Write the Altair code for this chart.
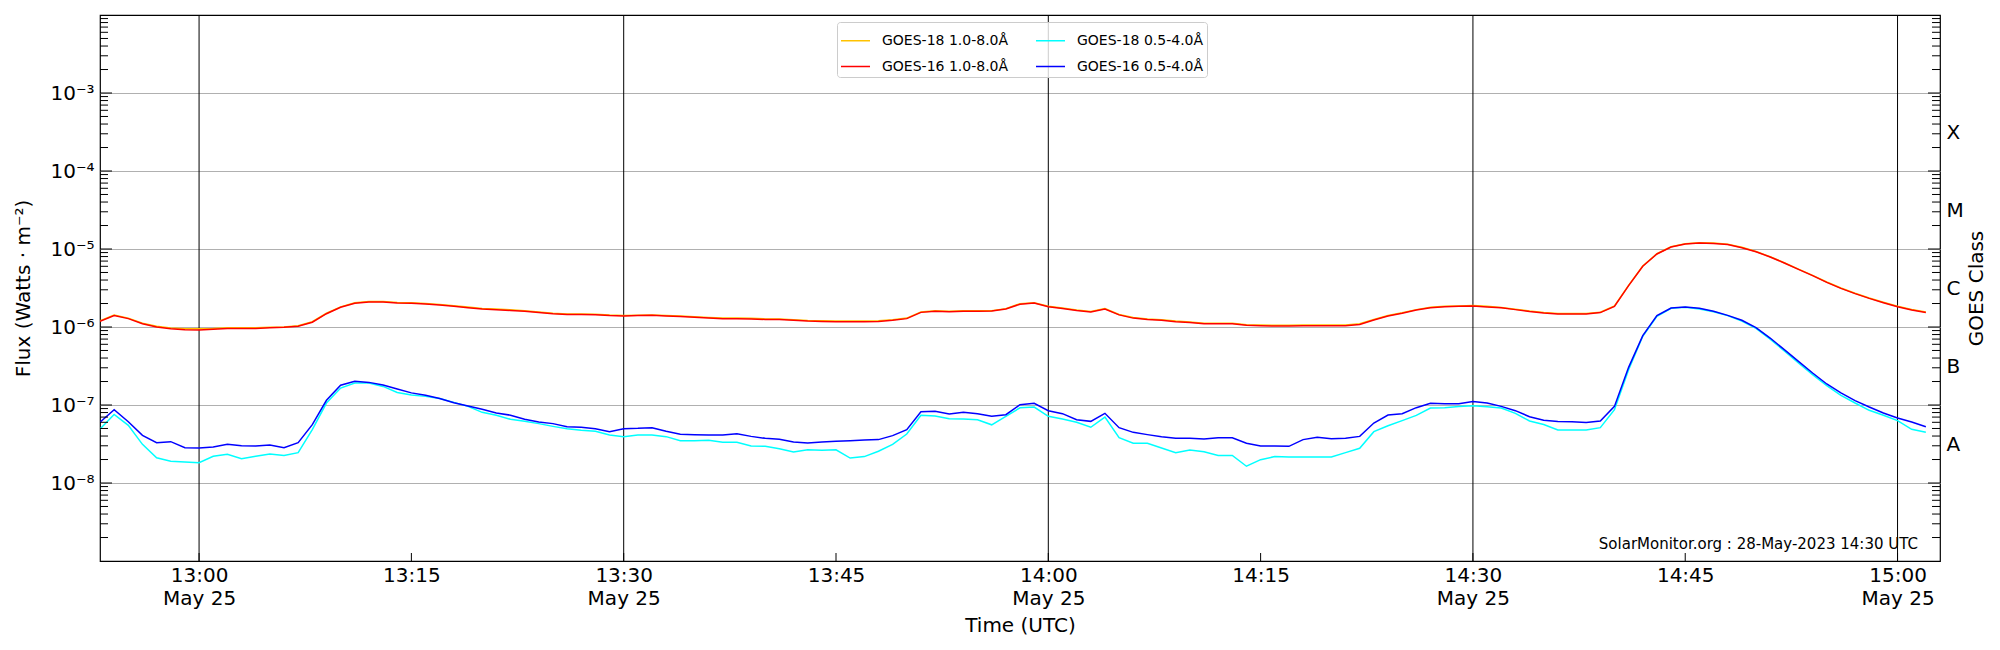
import json
import pandas as pd
import altair as alt

# ---------------- data ----------------
N_MIN = 130  # one-minute samples, 12:53 .. 15:02 UTC
sample_times = [t.strftime("%Y-%m-%dT%H:%M:00Z")
                for t in pd.date_range("2023-05-25 12:53", periods=N_MIN, freq="1min")]

# GOES-18 1.0-8.0 A  (units of 1e-6 W/m^2)
goes18_long = [1.20, 1.42, 1.30, 1.12, 1.02, 0.97, 0.95, 0.95, 0.96, 0.98,
               0.98, 0.98, 0.99, 1.00, 1.04, 1.17, 1.50, 1.81, 2.04, 2.12,
               2.12, 2.06, 2.04, 2.00, 1.94, 1.87, 1.80, 1.73, 1.70, 1.66,
               1.62, 1.56, 1.50, 1.47, 1.47, 1.46, 1.42, 1.40, 1.41, 1.42,
               1.40, 1.38, 1.35, 1.32, 1.30, 1.30, 1.29, 1.27, 1.27, 1.24,
               1.21, 1.20, 1.19, 1.19, 1.19, 1.20, 1.24, 1.30, 1.56, 1.61,
               1.59, 1.61, 1.61, 1.62, 1.72, 1.99, 2.05, 1.84, 1.75, 1.65,
               1.58, 1.72, 1.45, 1.32, 1.27, 1.24, 1.19, 1.16, 1.12, 1.12,
               1.12, 1.07, 1.06, 1.05, 1.05, 1.06, 1.06, 1.06, 1.06, 1.10,
               1.25, 1.40, 1.52, 1.67, 1.79, 1.84, 1.86, 1.88, 1.84, 1.78,
               1.69, 1.60, 1.53, 1.49, 1.49, 1.49, 1.55, 1.86, 3.42, 6.05,
               8.70, 10.7, 11.7, 12.0, 11.9, 11.5, 10.5, 9.30, 7.95, 6.67,
               5.53, 4.59, 3.77, 3.16, 2.71, 2.36, 2.08, 1.85, 1.68, 1.56]

# GOES-16 1.0-8.0 A  (units of 1e-6 W/m^2)
goes16_long = [1.18, 1.40, 1.28, 1.10, 1.00, 0.95, 0.924, 0.915, 0.934, 0.96,
               0.96, 0.96, 0.98, 0.99, 1.02, 1.15, 1.48, 1.79, 2.01, 2.09,
               2.09, 2.03, 2.01, 1.97, 1.91, 1.84, 1.77, 1.70, 1.67, 1.63,
               1.59, 1.53, 1.48, 1.45, 1.45, 1.44, 1.40, 1.38, 1.40, 1.41,
               1.38, 1.36, 1.33, 1.30, 1.28, 1.28, 1.27, 1.25, 1.25, 1.22,
               1.19, 1.18, 1.17, 1.17, 1.17, 1.18, 1.22, 1.28, 1.54, 1.59,
               1.57, 1.59, 1.59, 1.60, 1.70, 1.96, 2.03, 1.82, 1.73, 1.63,
               1.56, 1.70, 1.43, 1.30, 1.25, 1.22, 1.17, 1.14, 1.10, 1.10,
               1.10, 1.05, 1.04, 1.03, 1.03, 1.04, 1.04, 1.04, 1.04, 1.08,
               1.23, 1.38, 1.50, 1.65, 1.77, 1.82, 1.84, 1.86, 1.81, 1.76,
               1.67, 1.58, 1.51, 1.47, 1.47, 1.47, 1.53, 1.84, 3.39, 6.00,
               8.63, 10.6, 11.6, 11.9, 11.8, 11.4, 10.4, 9.24, 7.90, 6.62,
               5.49, 4.55, 3.74, 3.13, 2.68, 2.33, 2.05, 1.82, 1.65, 1.53]

# GOES-18 0.5-4.0 A  (units of 1e-8 W/m^2)
goes18_short = [4.92, 7.58, 5.48, 3.13, 2.11, 1.90, 1.86, 1.82, 2.20, 2.33,
                2.05, 2.20, 2.35, 2.26, 2.45, 4.83, 10.6, 16.5, 19.1, 19.1,
                17.3, 14.5, 13.4, 12.9, 12.1, 10.8, 9.60, 8.05, 7.40, 6.55,
                6.17, 5.77, 5.32, 4.95, 4.73, 4.60, 4.13, 3.93, 4.13, 4.13,
                3.93, 3.49, 3.49, 3.53, 3.33, 3.33, 2.98, 2.95, 2.75, 2.49,
                2.67, 2.62, 2.67, 2.09, 2.18, 2.55, 3.13, 4.25, 7.37, 7.22,
                6.68, 6.61, 6.48, 5.57, 7.16, 9.20, 9.40, 7.16, 6.61, 6.00,
                5.18, 7.01, 3.81, 3.23, 3.23, 2.81, 2.45, 2.65, 2.52, 2.26,
                2.26, 1.64, 1.99, 2.18, 2.16, 2.16, 2.16, 2.16, 2.45, 2.79,
                4.55, 5.43, 6.30, 7.37, 9.15, 9.24, 9.60, 9.80, 9.50, 9.16,
                7.80, 6.25, 5.61, 4.78, 4.78, 4.78, 5.12, 8.70, 28.4, 76.0,
                137.0, 174.0, 179.0, 170.0, 157.0, 140.0, 119.0, 96.0, 70.0, 49.2,
                34.5, 24.5, 17.7, 13.3, 10.6, 8.55, 7.38, 6.30, 4.88, 4.47]

# GOES-16 0.5-4.0 A  (units of 1e-8 W/m^2)
goes16_short = [6.00, 8.70, 6.10, 4.08, 3.29, 3.39, 2.84, 2.81, 2.90, 3.13,
                3.01, 2.98, 3.07, 2.84, 3.29, 5.60, 11.5, 17.9, 20.1, 19.5,
                18.0, 16.0, 14.3, 13.3, 12.1, 10.7, 9.70, 8.80, 7.90, 7.40,
                6.55, 6.05, 5.77, 5.25, 5.17, 4.97, 4.55, 4.97, 5.02, 5.12,
                4.60, 4.21, 4.17, 4.13, 4.13, 4.29, 3.96, 3.74, 3.63, 3.36,
                3.26, 3.36, 3.42, 3.49, 3.56, 3.60, 4.05, 4.83, 8.20, 8.30,
                7.67, 8.05, 7.74, 7.16, 7.51, 10.1, 10.5, 8.46, 7.74, 6.48,
                6.17, 7.82, 5.12, 4.46, 4.17, 3.93, 3.74, 3.74, 3.67, 3.81,
                3.81, 3.23, 2.98, 2.98, 2.95, 3.60, 3.85, 3.70, 3.74, 3.96,
                5.88, 7.44, 7.74, 9.24, 10.5, 10.4, 10.4, 11.1, 10.6, 9.60,
                8.46, 7.08, 6.36, 6.14, 6.09, 5.97, 6.25, 9.60, 30.4, 77.4,
                140.0, 175.0, 180.0, 174.0, 159.0, 141.0, 122.0, 98.0, 72.2, 51.2,
                36.3, 25.7, 18.6, 14.3, 11.4, 9.42, 7.89, 6.81, 6.05, 5.27]

# legend order (Vega fills the 2 legend columns top-to-bottom)
series_names = ["GOES-18 1.0-8.0Å", "GOES-16 1.0-8.0Å", "GOES-18 0.5-4.0Å", "GOES-16 0.5-4.0Å"]
series_colors = ["#ffc200", "#ff0000", "#00ffff", "#0000ff"]

# axis ticks / labels
x_tick_times = ["13:00", "13:15", "13:30", "13:45", "14:00", "14:15", "14:30", "14:45", "15:00"]
vline_times = ["13:00", "13:30", "14:00", "14:30", "15:00"]
y_decades = [-8, -7, -6, -5, -4, -3]
y_decade_labels = ["10⁻⁸", "10⁻⁷", "10⁻⁶", "10⁻⁵", "10⁻⁴", "10⁻³"]
goes_class_exponents = [-7.5, -6.5, -5.5, -4.5, -3.5]
goes_class_labels = ["A", "B", "C", "M", "X"]
annotation = "SolarMonitor.org : 28-May-2023 14:30 UTC"

# ---------------- tables ----------------
rows = []
for name, vals, unit in [(series_names[0], goes18_long, 1e-6),
                         (series_names[1], goes16_long, 1e-6),
                         (series_names[2], goes18_short, 1e-8),
                         (series_names[3], goes16_short, 1e-8)]:
    for t, v in zip(sample_times, vals):
        rows.append({"time": t, "flux": v * unit, "series": name})
df = pd.DataFrame(rows)

def iso(hm):
    return f"2023-05-25T{hm}:00Z"

def dt(h, m):
    return alt.DateTime(year=2023, month=5, date=25, hours=h, minutes=m, utc=True)

minor_vals = [k * 10.0 ** n for n in range(-9, -2) for k in range(2, 10)]
major_vals = [10.0 ** e for e in range(-8, -2)]
df_minor = pd.DataFrame({"v": minor_vals})
df_major = pd.DataFrame({"v": major_vals})
df_xticks = pd.DataFrame({"time": [iso(t) for t in x_tick_times]})
df_vlines = pd.DataFrame({"time": [iso(t) for t in vline_times]})

# ---------------- geometry ----------------
W, H = 1840, 546
FONT = "DejaVu Sans"

xscale = alt.Scale(type="utc", domain=[dt(12, 53), dt(15, 3)])
yscale = alt.Scale(type="log", domain=[1e-9, 1e-2], nice=False)

x_axis = alt.Axis(
    values=[dt(int(t[:2]), int(t[3:])) for t in x_tick_times],
    labelExpr="utcminutes(datum.value) % 30 == 0 ? [utcFormat(datum.value, '%H:%M'), utcFormat(datum.value, '%b %d')] : utcFormat(datum.value, '%H:%M')",
    labelFontSize=20, labelPadding=4, labelBaseline="top", labelLineHeight=23,
    labelFlush=False, labelOverlap=False,
    ticks=False, domain=False, grid=False,
    title="Time (UTC)", titleFontSize=20, titleFontWeight="normal",
    titleY=64, titleBaseline="middle",
)

y_axis_left = alt.Axis(
    values=[10.0 ** e for e in y_decades],
    labelExpr=json.dumps(y_decade_labels) + "[round(log(datum.value)/LN10) + 8]",
    labelFontSize=20, labelPadding=6,
    ticks=False, domain=False, grid=True, gridColor="#b0b0b0", gridWidth=1,
    title="Flux (Watts · m⁻²)", titleFontSize=20, titleFontWeight="normal",
    titleAngle=270, titleX=-77, titleY=H / 2, titleBaseline="middle", titleAlign="center",
)

y_axis_right = alt.Axis(
    orient="right",
    values=[10.0 ** e for e in goes_class_exponents],
    labelExpr=json.dumps(goes_class_labels) + "[round(log(datum.value)/LN10 + 7.5)]",
    labelFontSize=20, labelPadding=6, labelAlign="left", labelBaseline="middle",
    ticks=False, domain=False, grid=False,
    title="GOES Class", titleFontSize=20, titleFontWeight="normal",
    titleAngle=270, titleX=36, titleY=H / 2, titleBaseline="middle", titleAlign="center",
)

legend = alt.Legend(
    title=None, orient="none", legendX=737, legendY=7, columns=2,
    symbolType="stroke", symbolSize=840, symbolStrokeWidth=1.5,
    labelFontSize=14, labelFont=FONT, labelOffset=11,
    columnPadding=24, rowPadding=3, padding=3,
    fillColor="rgba(255,255,255,0.8)", strokeColor="#cccccc", cornerRadius=3,
)

color_enc = alt.Color("series:N", scale=alt.Scale(domain=series_names, range=series_colors), legend=legend)

def series_line(name):
    return alt.Chart(df).transform_filter(alt.datum.series == name).mark_line(strokeWidth=1.5, clip=True).encode(
        x=alt.X("time:T", scale=xscale, axis=x_axis),
        y=alt.Y("flux:Q", scale=yscale, axis=y_axis_left),
        color=color_enc,
    )

vlines = alt.Chart(df_vlines).mark_rule(color="black", strokeWidth=1).encode(
    x=alt.X("time:T", scale=xscale, axis=x_axis))

bottom_ticks = alt.Chart(df_xticks).mark_rule(color="black", strokeWidth=1).encode(
    x=alt.X("time:T", scale=xscale, axis=x_axis), y=alt.value(H), y2=alt.value(H - 8))

left_minor = alt.Chart(df_minor).mark_rule(color="black", strokeWidth=1).encode(
    y=alt.Y("v:Q", scale=yscale, axis=y_axis_left), x=alt.value(0), x2=alt.value(8))
left_major = alt.Chart(df_major).mark_rule(color="black", strokeWidth=1).encode(
    y=alt.Y("v:Q", scale=yscale, axis=y_axis_left), x=alt.value(0), x2=alt.value(12))

note = alt.Chart(pd.DataFrame({"a": [0]})).mark_text(
    align="right", baseline="alphabetic", fontSize=15, font=FONT, color="black").encode(
    x=alt.value(1818), y=alt.value(534), text=alt.value(annotation))

left_layer = alt.layer(
    vlines,
    series_line(series_names[0]),
    series_line(series_names[1]),
    series_line(series_names[2]),
    series_line(series_names[3]),
    left_minor, left_major, bottom_ticks, note,
)

right_minor = alt.Chart(df_minor).mark_rule(color="black", strokeWidth=1).encode(
    y=alt.Y("v:Q", scale=yscale, axis=y_axis_right), x=alt.value(W), x2=alt.value(W - 8))
right_major = alt.Chart(df_major).mark_rule(color="black", strokeWidth=1).encode(
    y=alt.Y("v:Q", scale=yscale, axis=y_axis_right), x=alt.value(W), x2=alt.value(W - 12))
right_layer = alt.layer(right_minor, right_major)

chart = alt.layer(left_layer, right_layer).resolve_scale(y="independent").properties(
    width=W, height=H,
    autosize=alt.AutoSizeParams(type="none"),
    padding={"left": 92, "top": 7, "right": 52, "bottom": 80},
    background="white",
).configure(font=FONT).configure_view(
    stroke="black", strokeWidth=1.2
).configure_axis(
    labelFont=FONT, titleFont=FONT, labelColor="black", titleColor="black"
)

chart.save("out.html", embed_options={"renderer": "svg", "actions": False})
